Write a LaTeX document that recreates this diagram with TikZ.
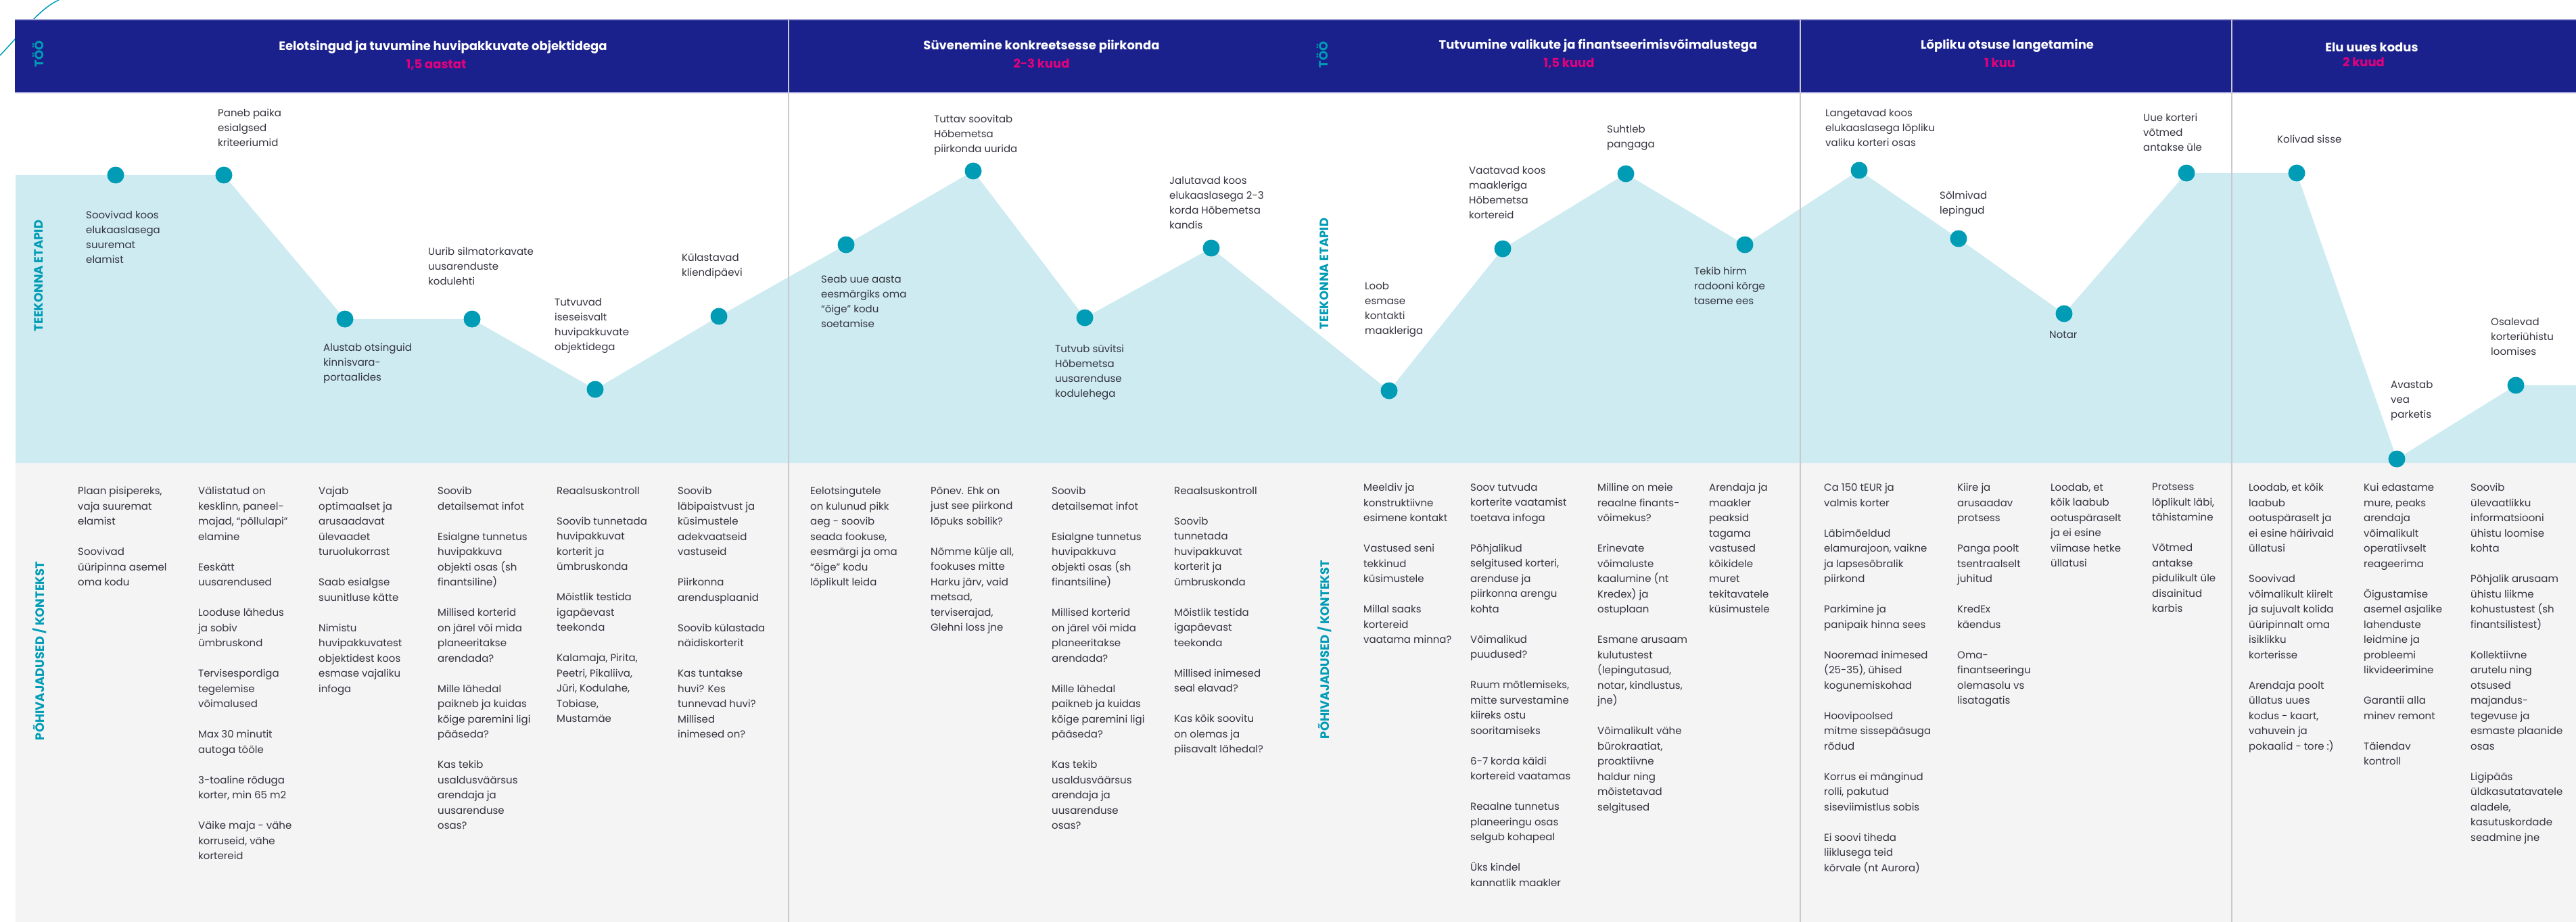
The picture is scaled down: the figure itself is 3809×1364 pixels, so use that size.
\documentclass[tikz,border=0pt]{standalone}
\usepackage{fontspec}
\setmainfont{Poppins}
\usetikzlibrary{positioning}

\definecolor{navy}{RGB}{27,33,140}
\definecolor{dotcol}{RGB}{0,156,182}
\definecolor{pathfill}{RGB}{205,235,240}
\definecolor{ctxbg}{RGB}{244,244,244}
\definecolor{spancol}{RGB}{228,0,124}
\definecolor{sepline}{RGB}{200,200,206}
\definecolor{hdredge}{RGB}{160,162,212}
\definecolor{txt}{RGB}{52,52,64}

\newcommand{\pgap}{\\[22.5pt]}

\begin{document}
\begin{tikzpicture}[
                x=1pt, y=-1pt,
                every node/.append style={inner sep=0pt},
                dot/.style={circle, fill=dotcol, minimum size=25pt},
                stage/.style={anchor=north west, align=left, text=txt,
                    font=\fontsize{15}{22}\selectfont},
                need/.style={anchor=north west, align=left, text=txt,
                    font=\fontsize{15}{22.5}\selectfont},
                phase/.style={text=white, font=\bfseries\fontsize{18}{20}\selectfont},
                span/.style={text=spancol, font=\bfseries\fontsize{18}{20}\selectfont},
                side/.style={rotate=90, text=dotcol, font=\bfseries\fontsize{18}{20}\selectfont},
                sep/.style={sepline, line width=2pt}
            ]
                \useasboundingbox (0,0) rectangle (3809,1364);

                % backgrounds
                \fill[ctxbg] (23,685) rectangle (3809,1364);
                \draw[dotcol, line width=1.5pt] (0,82) .. controls (35,45) and (60,12) .. (87,0);

                % journey points
                \coordinate (p1) at (171,259);
                \coordinate (p2) at (331,259);
                \coordinate (p3) at (510,472);
                \coordinate (p4) at (698,472);
                \coordinate (p5) at (880,576);
                \coordinate (p6) at (1063,468);
                \coordinate (p7) at (1251,362);
                \coordinate (p8) at (1439,253);
                \coordinate (p9) at (1604,470);
                \coordinate (p10) at (1791,367);
                \coordinate (p11) at (2054,578);
                \coordinate (p12) at (2222,368);
                \coordinate (p13) at (2404,257);
                \coordinate (p14) at (2580,362);
                \coordinate (p15) at (2749,252);
                \coordinate (p16) at (2896,353);
                \coordinate (p17) at (3052,464);
                \coordinate (p18) at (3233,256);
                \coordinate (p19) at (3396,256);
                \coordinate (p20) at (3544,679);
                \coordinate (p21) at (3720,570);
                \fill[pathfill] (23,259) -- (p1) -- (p2) -- (p3) -- (p4) -- (p5) -- (p6) -- (p7)
                    -- (p8) -- (p9) -- (p10) -- (p11) -- (p12) -- (p13) -- (p14) -- (p15)
                    -- (p16) -- (p17) -- (p18) -- (p19) -- (p20) -- (p21) -- (3809,570)
                    -- (3809,685) -- (23,685) -- cycle;

                % header
                \fill[navy] (22,29) rectangle (3809,137);
                \draw[hdredge, line width=1.5pt] (22,29) -- (3809,29) (22,137) -- (3809,137);
                \foreach \x in {1166,2662,3300}
                    \draw[sep] (\x,29) -- (\x,1364);

                \foreach \i in {1,...,21}
                    \node[dot] (d\i) at (p\i) {};

                \node[phase] (t1) at (655,70) {Eelotsingud ja tuvumine huvipakkuvate objektidega};
                \node[span, below=8pt of t1, xshift=-10pt] (s1) {1,5 aastat};
                \node[phase] (t2) at (1540,69) {Süvenemine konkreetsesse piirkonda};
                \node[span, below=8pt of t2] (s2) {2-3 kuud};
                \node[phase] (t3) at (2363,68) {Tutvumine valikute ja finantseerimisvõimalustega};
                \node[span, below=8pt of t3, xshift=-43pt] (s3) {1,5 kuud};
                \node[phase] (t4) at (2968,68) {Lõpliku otsuse langetamine};
                \node[span, below=8pt of t4, xshift=-11pt] (s4) {1 kuu};
                \node[phase] (t5) at (3507,70) {Elu uues kodus};
                \node[span, below=8pt of t5, xshift=-12pt] (s5) {2 kuud};

                \node[side] (tooA) at (56,80) {TÖÖ};
                \node[side] (tooB) at (1955,81) {TÖÖ};
                \node[side] (etapA) at (57,408) {TEEKONNA ETAPID};
                \node[side] (etapB) at (1958,405) {TEEKONNA ETAPID};
                \node[side] (kontA) at (59,963) {PÕHIVAJADUSED / KONTEKST};
                \node[side] (kontB) at (1959,961) {PÕHIVAJADUSED / KONTEKST};

                % journey stages
                \node[stage] (l1) at (127,312) {Soovivad koos\\elukaaslasega\\suuremat\\elamist};
                \node[stage] (l2) at (322,161) {Paneb paika\\esialgsed\\kriteeriumid};
                \node[stage] (l3) at (478,508) {Alustab otsinguid\\kinnisvara-\\portaalides};
                \node[stage] (l4) at (633,366) {Uurib silmatorkavate\\uusarenduste\\kodulehti};
                \node[stage] (l5) at (820,441) {Tutvuvad\\iseseisvalt\\huvipakkuvate\\objektidega};
                \node[stage] (l6) at (1008,375) {Külastavad\\kliendipäevi};
                \node[stage] (l7) at (1214,407) {Seab uue aasta\\eesmärgiks oma\\“õige” kodu\\soetamise};
                \node[stage] (l8) at (1381,170) {Tuttav soovitab\\Hõbemetsa\\piirkonda uurida};
                \node[stage] (l9) at (1560,510) {Tutvub süvitsi\\Hõbemetsa\\uusarenduse\\kodulehega};
                \node[stage] (l10) at (1729,261) {Jalutavad koos\\elukaaslasega 2-3\\korda Hõbemetsa\\kandis};
                \node[stage] (l11) at (2018,417) {Loob\\esmase\\kontakti\\maakleriga};
                \node[stage] (l12) at (2172,246) {Vaatavad koos\\maakleriga\\Hõbemetsa\\kortereid};
                \node[stage] (l13) at (2376,185) {Suhtleb\\pangaga};
                \node[stage] (l14) at (2505,395) {Tekib hirm\\radooni kõrge\\taseme ees};
                \node[stage] (l15) at (2699,161) {Langetavad koos\\elukaaslasega lõpliku\\valiku korteri osas};
                \node[stage] (l16) at (2868,283) {Sõlmivad\\lepingud};
                \node[stage] (l17) at (3030,490) {Notar};
                \node[stage] (l18) at (3169,168) {Uue korteri\\võtmed\\antakse üle};
                \node[stage] (l19) at (3367,200) {Kolivad sisse};
                \node[stage] (l20) at (3535,563) {Avastab\\vea\\parketis};
                \node[stage] (l21) at (3683,470) {Osalevad\\korteriühistu\\loomises};

                % needs / context
                \node[need] (c1) at (115,720) {Plaan pisipereks,\\vaja suuremat\\elamist\pgap
                    Soovivad\\üüripinna asemel\\oma kodu};
                \node[need] (c2) at (293,720) {Välistatud on\\kesklinn, paneel-\\majad, “põllulapi”\\elamine\pgap
                    Eeskätt\\uusarendused\pgap Looduse lähedus\\ja sobiv\\ümbruskond\pgap
                    Tervisespordiga\\tegelemise\\võimalused\pgap Max 30 minutit\\autoga tööle\pgap
                    3-toaline rõduga\\korter, min 65 m2\pgap Väike maja - vähe\\korruseid, vähe\\kortereid};
                \node[need] (c3) at (471,720) {Vajab\\optimaalset ja\\arusaadavat\\ülevaadet\\turuolukorrast\pgap
                    Saab esialgse\\suunitluse kätte\pgap Nimistu\\huvipakkuvatest\\objektidest koos\\esmase vajaliku\\infoga};
                \node[need] (c4) at (647,720) {Soovib\\detailsemat infot\pgap Esialgne tunnetus\\huvipakkuva\\objekti osas (sh\\finantsiline)\pgap
                    Millised korterid\\on järel või mida\\planeeritakse\\arendada?\pgap
                    Mille lähedal\\paikneb ja kuidas\\kõige paremini ligi\\pääseda?\pgap
                    Kas tekib\\usaldusväärsus\\arendaja ja\\uusarenduse\\osas?};
                \node[need] (c5) at (823,720) {Reaalsuskontroll\pgap Soovib tunnetada\\huvipakkuvat\\korterit ja\\ümbruskonda\pgap
                    Mõistlik testida\\igapäevast\\teekonda\pgap Kalamaja, Pirita,\\Peetri, Pikaliiva,\\Jüri, Kodulahe,\\Tobiase,\\Mustamäe};
                \node[need] (c6) at (1002,720) {Soovib\\läbipaistvust ja\\küsimustele\\adekvaatseid\\vastuseid\pgap
                    Piirkonna\\arendusplaanid\pgap Soovib külastada\\näidiskorterit\pgap
                    Kas tuntakse\\huvi? Kes\\tunnevad huvi?\\Millised\\inimesed on?};
                \node[need] (c7) at (1198,720) {Eelotsingutele\\on kulunud pikk\\aeg - soovib\\seada fookuse,\\eesmärgi ja oma\\“õige” kodu\\lõplikult leida};
                \node[need] (c8) at (1376,720) {Põnev. Ehk on\\just see piirkond\\lõpuks sobilik?\pgap
                    Nõmme külje all,\\fookuses mitte\\Harku järv, vaid\\metsad,\\terviserajad,\\Glehni loss jne};
                \node[need] (c9) at (1555,720) {Soovib\\detailsemat infot\pgap Esialgne tunnetus\\huvipakkuva\\objekti osas (sh\\finantsiline)\pgap
                    Millised korterid\\on järel või mida\\planeeritakse\\arendada?\pgap
                    Mille lähedal\\paikneb ja kuidas\\kõige paremini ligi\\pääseda?\pgap
                    Kas tekib\\usaldusväärsus\\arendaja ja\\uusarenduse\\osas?};
                \node[need] (c10) at (1736,720) {Reaalsuskontroll\pgap Soovib\\tunnetada\\huvipakkuvat\\korterit ja\\ümbruskonda\pgap
                    Mõistlik testida\\igapäevast\\teekonda\pgap Millised inimesed\\seal elavad?\pgap
                    Kas kõik soovitu\\on olemas ja\\piisavalt lähedal?};
                \node[need] (c11) at (2016,715) {Meeldiv ja\\konstruktiivne\\esimene kontakt\pgap
                    Vastused seni\\tekkinud\\küsimustele\pgap Millal saaks\\kortereid\\vaatama minna?};
                \node[need] (c12) at (2174,715) {Soov tutvuda\\korterite vaatamist\\toetava infoga\pgap
                    Põhjalikud\\selgitused korteri,\\arenduse ja\\piirkonna arengu\\kohta\pgap
                    Võimalikud\\puudused?\pgap Ruum mõtlemiseks,\\mitte survestamine\\kiireks ostu\\sooritamiseks\pgap
                    6-7 korda käidi\\kortereid vaatamas\pgap Reaalne tunnetus\\planeeringu osas\\selgub kohapeal\pgap
                    Üks kindel\\kannatlik maakler};
                \node[need] (c13) at (2362,715) {Milline on meie\\reaalne finants-\\võimekus?\pgap
                    Erinevate\\võimaluste\\kaalumine (nt\\Kredex) ja\\ostuplaan\pgap
                    Esmane arusaam\\kulutustest\\(lepingutasud,\\notar, kindlustus,\\jne)\pgap
                    Võimalikult vähe\\bürokraatiat,\\proaktiivne\\haldur ning\\mõistetavad\\selgitused};
                \node[need] (c14) at (2527,715) {Arendaja ja\\maakler\\peaksid\\tagama\\vastused\\kõikidele\\muret\\tekitavatele\\küsimustele};
                \node[need] (c15) at (2697,715) {Ca 150 tEUR ja\\valmis korter\pgap
                    Läbimõeldud\\elamurajoon, vaikne\\ja lapsesõbralik\\piirkond\pgap
                    Parkimine ja\\panipaik hinna sees\pgap Nooremad inimesed\\(25-35), ühised\\kogunemiskohad\pgap
                    Hoovipoolsed\\mitme sissepääsuga\\rõdud\pgap Korrus ei mänginud\\rolli, pakutud\\siseviimistlus sobis\pgap
                    Ei soovi tiheda\\liiklusega teid\\kõrvale (nt Aurora)};
                \node[need] (c16) at (2894,715) {Kiire ja\\arusaadav\\protsess\pgap Panga poolt\\tsentraalselt\\juhitud\pgap
                    KredEx\\käendus\pgap Oma-\\finantseeringu\\olemasolu vs\\lisatagatis};
                \node[need] (c17) at (3032,715) {Loodab, et\\kõik laabub\\ootuspäraselt\\ja ei esine\\viimase hetke\\üllatusi};
                \node[need] (c18) at (3182,715) {Protsess\\lõplikult läbi,\\tähistamine\pgap
                    Võtmed\\antakse\\pidulikult üle\\disainitud\\karbis};
                \node[need] (c19) at (3325,715) {Loodab, et kõik\\laabub\\ootuspäraselt ja\\ei esine häirivaid\\üllatusi\pgap
                    Soovivad\\võimalikult kiirelt\\ja sujuvalt kolida\\üüripinnalt oma\\isiklikku\\korterisse\pgap
                    Arendaja poolt\\üllatus uues\\kodus - kaart,\\vahuvein ja\\pokaalid - tore :)};
                \node[need] (c20) at (3495,715) {Kui edastame\\mure, peaks\\arendaja\\võimalikult\\operatiivselt\\reageerima\pgap
                    Õigustamise\\asemel asjalike\\lahenduste\\leidmine ja\\probleemi\\likvideerimine\pgap
                    Garantii alla\\minev remont\pgap Täiendav\\kontroll};
                \node[need] (c21) at (3653,715) {Soovib\\ülevaatlikku\\informatsiooni\\ühistu loomise\\kohta\pgap
                    Põhjalik arusaam\\ühistu liikme\\kohustustest (sh\\finantsilistest)\pgap
                    Kollektiivne\\arutelu ning\\otsused\\majandus-\\tegevuse ja\\esmaste plaanide\\osas\pgap
                    Ligipääs\\üldkasutatavatele\\aladele,\\kasutuskordade\\seadmine jne};
            \end{tikzpicture}
\end{document}
